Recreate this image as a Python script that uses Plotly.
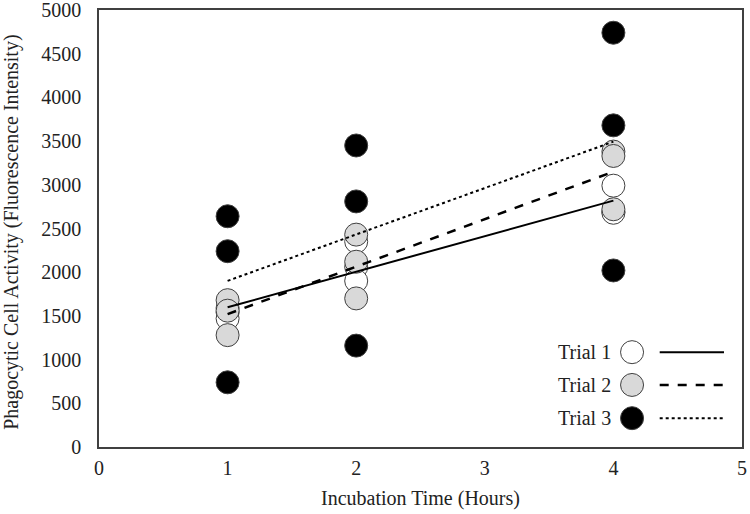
import numpy as np
import plotly.graph_objects as go

times = [1, 2, 4]
trial1 = {1: [1590, 1540, 1470], 2: [2350, 2060, 1900], 4: [2990, 2690, 2680]}
trial2 = {1: [1680, 1560, 1280], 2: [2430, 2120, 1700], 4: [3380, 3330, 2720]}
trial3 = {1: [2640, 2240, 740], 2: [3450, 2810, 1160], 4: [4740, 3680, 2020]}
trial_names = ["Trial 1", "Trial 2", "Trial 3"]
fills = ["#ffffff", "#d9d9d9", "#000000"]
dashes = ["solid", "dash", "dot"]
line_widths = [2, 2.5, 2]

x_ticks = [0, 1, 2, 3, 4, 5]
y_ticks = [0, 500, 1000, 1500, 2000, 2500, 3000, 3500, 4000, 4500, 5000]

FONT = "Liberation Serif, Times New Roman, serif"
FS = 20

fig = go.Figure()
trials = [trial1, trial2, trial3]

for name, data, fill in zip(trial_names, trials, fills):
    xs = [t for t in times for _ in data[t]]
    ys = [v for t in times for v in data[t]]
    fig.add_trace(go.Scatter(
        x=xs, y=ys, mode="markers", name=name, showlegend=False,
        marker=dict(size=23, color=fill, line=dict(color="#404040", width=1)),
    ))

for name, data, dash, lw in zip(trial_names, trials, dashes, line_widths):
    xs = np.array([t for t in times for _ in data[t]], dtype=float)
    ys = np.array([v for t in times for v in data[t]], dtype=float)
    slope, icpt = np.polyfit(xs, ys, 1)
    xl = np.array([min(times), max(times)], dtype=float)
    fig.add_trace(go.Scatter(
        x=xl, y=slope * xl + icpt, mode="lines", showlegend=False,
        line=dict(color="black", width=lw, dash=dash),
    ))

# custom legend (bottom right)
leg_y = [0.217, 0.142, 0.066]
for i, (name, fill, dash, lw) in enumerate(zip(trial_names, fills, dashes, line_widths)):
    yc = leg_y[i]
    fig.add_annotation(xref="paper", yref="paper", x=0.800, y=yc, text=name,
                       showarrow=False, xanchor="right", yanchor="middle",
                       font=dict(family=FONT, size=FS, color="#222"))
    fig.add_shape(type="circle", xref="paper", yref="paper",
                  xsizemode="pixel", ysizemode="pixel",
                  xanchor=0.829, yanchor=yc, x0=-11.5, x1=11.5, y0=-11.5, y1=11.5,
                  fillcolor=fill, line=dict(color="#404040", width=1))
    fig.add_shape(type="line", xref="paper", yref="paper",
                  x0=0.872, x1=0.972, y0=yc, y1=yc,
                  line=dict(color="black", width=lw, dash=dash))

# y-axis title as rotated annotation
fig.add_annotation(xref="paper", yref="paper", x=-0.1353, y=0.49,
                   text="Phagocytic Cell Activity (Fluorescence Intensity)",
                   textangle=-90, showarrow=False, xanchor="center", yanchor="middle",
                   font=dict(family=FONT, size=FS, color="#222"))

fig.update_layout(
    width=750, height=514,
    margin=dict(l=99, r=8, t=10, b=67),
    paper_bgcolor="white", plot_bgcolor="white",
    font=dict(family=FONT, size=FS, color="#222"),
    showlegend=False,
)
fig.update_xaxes(
    range=[0, 5], tickvals=x_ticks, ticktext=[str(v) for v in x_ticks],
    showgrid=False, zeroline=False, showline=True, mirror=True,
    linecolor="#404040", linewidth=1.5, ticks="", automargin=False,
    ticklabelstandoff=2, ticklabeloverflow="allow",
    title=dict(text="Incubation Time (Hours)", font=dict(size=FS, family=FONT), standoff=13),
    tickfont=dict(size=FS, family=FONT),
)
fig.update_yaxes(
    range=[0, 5000], tickvals=y_ticks, ticktext=[str(v) for v in y_ticks],
    showgrid=False, zeroline=False, showline=True, mirror=True,
    linecolor="#404040", linewidth=1.5, ticks="", automargin=False,
    ticklabelstandoff=12, ticklabeloverflow="allow",
    tickfont=dict(size=FS, family=FONT),
)

fig.write_html("out.html", config={"displayModeBar": False},
               post_script="document.body.style.margin='0';document.body.style.padding='0';")
